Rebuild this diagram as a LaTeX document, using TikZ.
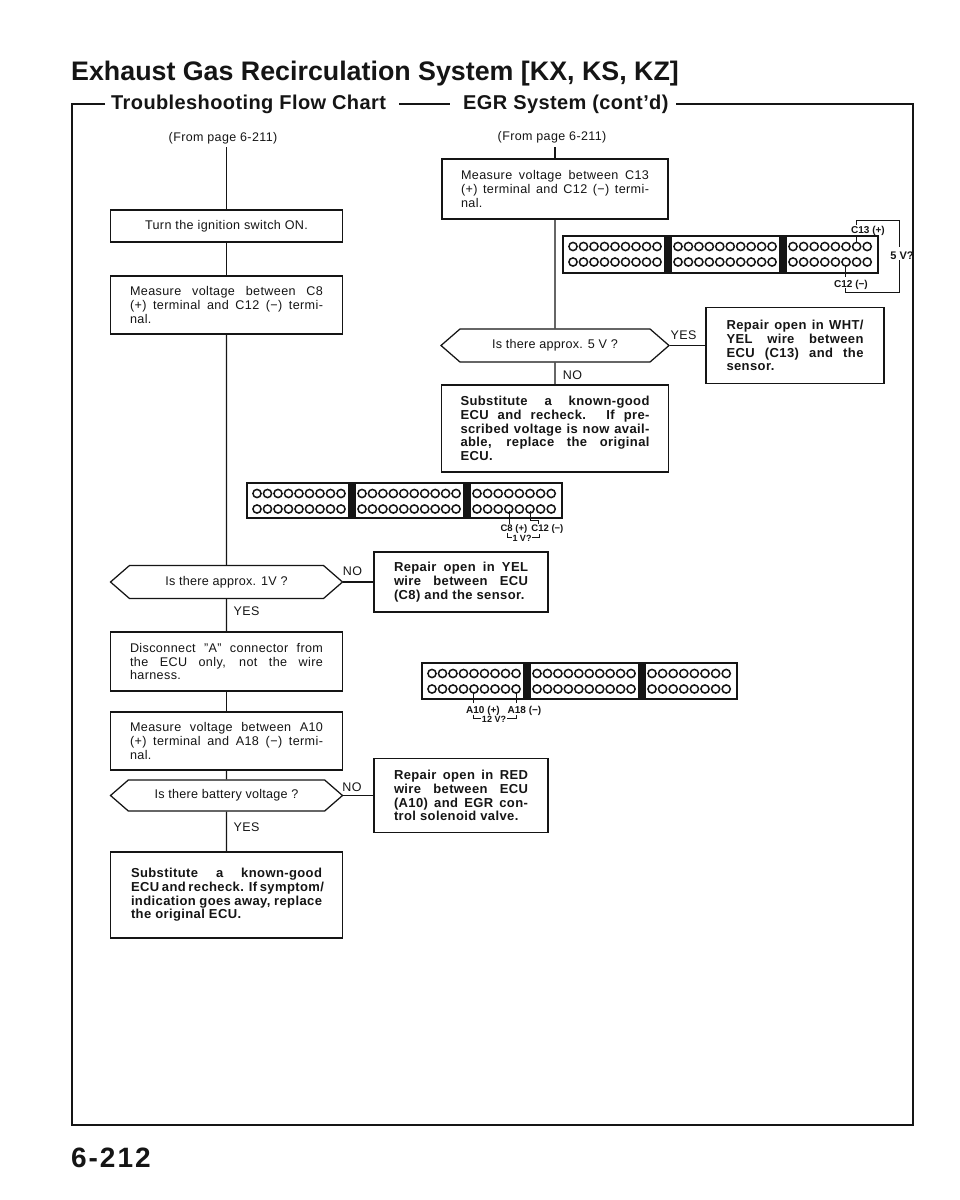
\documentclass[tikz,border=0pt]{standalone}
\usepackage{fontspec}
\setmainfont{Liberation Sans}
\usetikzlibrary{shapes.symbols}
\newcommand{\jl}[2]{\makebox[#1pt][s]{#2}}
\newcommand{\rowpins}[2]{%
  \foreach \k in {0,...,8} \draw[pin] ({#1+10+\k*10.5},#2) circle (4.1);
  \foreach \k in {0,...,9} \draw[pin] ({#1+115+\k*10.45},#2) circle (4.1);
  \foreach \k in {0,...,7} \draw[pin] ({#1+230+\k*10.6},#2) circle (4.1);}
\newcommand{\connbody}[3]{%
  \draw[line width=2pt,ink] (#1,#2) rectangle ({#1+315},{#2+#3});
  \fill[ink] ({#1+101},#2) rectangle ({#1+109},{#2+#3});
  \fill[ink] ({#1+216},#2) rectangle ({#1+224},{#2+#3});
  \rowpins{#1}{#2+10.5}
  \rowpins{#1}{#2+26}}
\definecolor{ink}{HTML}{151515}
\tikzset{
  x=1pt,y=-1pt,
  lin/.style={line width=1.15pt,draw=ink},
  pin/.style={line width=1.5pt,draw=ink},
  lead/.style={line width=1pt,draw=ink},
  bx/.style={rectangle,draw=ink,line width=1.25pt,fill=white,inner sep=0pt,align=left,
    font=\fontsize{12.6}{13.7}\selectfont\addfontfeature{LetterSpace=3},text=ink},
  bb/.style={bx,font=\fontsize{13}{13.7}\selectfont\bfseries\addfontfeature{LetterSpace=3}},
  hx/.style={signal,signal to=east and west,signal pointer angle=82,draw=ink,line width=1.25pt,
    fill=white,inner sep=0pt,minimum width=232pt,minimum height=33pt,
    font=\fontsize{12.6}{13.7}\selectfont\addfontfeature{LetterSpace=2},text=ink},
  lb/.style={inner sep=0pt,anchor=base,font=\fontsize{12.5}{14}\selectfont\addfontfeature{LetterSpace=3},text=ink},
  sm/.style={inner sep=0pt,anchor=base,font=\fontsize{10}{12}\selectfont\bfseries,text=ink},
  tn/.style={inner sep=0pt,anchor=base,font=\fontsize{9.5}{10}\selectfont\bfseries,text=ink},
}
\begin{document}
\begin{tikzpicture}
\useasboundingbox (0,0) rectangle (960,1200);
\fill[white] (0,0) rectangle (960,1200);
% header
\node[inner sep=0pt,anchor=base west,font=\fontsize{26.8}{28}\selectfont\bfseries,text=ink] (ttl) at (71,80) {Exhaust Gas Recirculation System [KX, KS, KZ]};
\node[inner sep=0pt,anchor=base west,font=\fontsize{20}{22}\selectfont\bfseries\addfontfeature{LetterSpace=2},text=ink] (st1) at (111,109) {Troubleshooting Flow Chart};
\node[inner sep=0pt,anchor=base west,font=\fontsize{20}{22}\selectfont\bfseries\addfontfeature{LetterSpace=2},text=ink] (st2) at (463,109) {EGR System (cont'd)};
\node[inner sep=0pt,anchor=base west,font=\fontsize{28}{30}\selectfont\bfseries\addfontfeature{LetterSpace=7},text=ink] (pg) at (71,1167) {6-212};
% frame
\draw[line width=1.4pt,ink] (105,104) -- (72,104) -- (72,1125) -- (913,1125) -- (913,104) -- (676,104);
\draw[line width=1.4pt,ink] (399,104) -- (450,104);
% left column
\node[lb] (f1) at (223,141) {(From page 6-211)};
\coordinate (f1s) at (226.5,147);
\node[bx,minimum width=232pt,minimum height=32pt,align=center] (b1) at (226.5,226) {Turn the ignition switch ON.};
\node[bx,minimum width=232pt,minimum height=58pt] (b2) at (226.5,305) {\jl{193}{Measure voltage between C8}\\\jl{193}{(+) terminal and C12 (−) termi-}\\nal.};
\node[hx] (h1) at (226.5,582) {Is there approx. 1V ?};
\node[bx,minimum width=232pt,minimum height=59pt] (b3) at (226.5,661.5) {\jl{193}{Disconnect ”A” connector from}\\\jl{193}{the ECU only, not the wire}\\harness.};
\node[bx,minimum width=232pt,minimum height=58pt] (b4) at (226.5,741) {\jl{193}{Measure voltage between A10}\\\jl{193}{(+) terminal and A18 (−) termi-}\\nal.};
\node[hx,minimum height=31pt] (h2) at (226.5,795.5) {Is there battery voltage ?};
\node[bb,minimum width=232pt,minimum height=86pt] (b5) at (226.5,895) {\jl{191}{Substitute a known-good}\\\jl{191}{ECU and recheck. If symptom/}\\\jl{191}{indication goes away, replace}\\the original ECU.};
\node[bb,minimum width=174pt,minimum height=60pt] (r1) at (461,582) {\jl{134}{Repair open in YEL}\\\jl{134}{wire between ECU}\\(C8) and the sensor.};
\node[bb,minimum width=174pt,minimum height=74pt] (r2) at (461,795.5) {\jl{134}{Repair open in RED}\\\jl{134}{wire between ECU}\\\jl{134}{(A10) and EGR con-}\\trol solenoid valve.};
\node[lb] (ly1) at (246.5,615) {YES};
\node[lb] (ln1) at (352.5,575) {NO};
\node[lb] (ln2) at (352,791) {NO};
\node[lb] (ly2) at (246.5,831) {YES};
\draw[lin] (f1s) -- (b1.north);
\draw[lin] (b1) -- (b2);
\draw[lin] (b2) -- (h1);
\draw[lin] (h1) -- (b3);
\draw[lin] (b3) -- (b4);
\draw[lin] (b4) -- (h2);
\draw[lin] (h2) -- (b5);
\draw[lin] (h1.east) -- (r1.west);
\draw[lin] (h2.east) -- (r2.west);
% right column
\node[lb] (f2) at (552,140) {(From page 6-211)};
\coordinate (f2s) at (555,147);
\node[bx,minimum width=226pt,minimum height=60pt] (c1) at (555,189) {\jl{188}{Measure voltage between C13}\\\jl{188}{(+) terminal and C12 (−) termi-}\\nal.};
\node[hx,minimum width=228pt] (h3) at (555,345.5) {Is there approx. 5 V ?};
\node[bb,minimum width=227pt,minimum height=87pt] (c2) at (555,428.5) {\jl{189}{Substitute a known-good}\\\jl{189}{ECU and recheck. If pre-}\\\jl{189}{scribed voltage is now avail-}\\\jl{189}{able, replace the original}\\ECU.};
\node[bb,minimum width=178pt,minimum height=76pt] (w1) at (795,345.5) {\jl{137}{Repair open in WHT/}\\\jl{137}{YEL wire between}\\\jl{137}{ECU (C13) and the}\\sensor.};
\node[lb] (ly3) at (683.5,339) {YES};
\node[lb] (ln3) at (572.5,379) {NO};
\draw[lin] (f2s) -- (c1.north);
\draw[lin] (c1) -- (h3);
\draw[lin] (h3) -- (c2);
\draw[lin] (h3.east) -- (w1.west);
% connector C13/C12
\connbody{563}{236}{37}
\draw[lead] (856.6,243) -- (856.6,236);
\draw[lead] (845.9,266) -- (845.9,277);
\node[sm] (c13) at (868,233) {C13 (+)};
\node[sm] (c12) at (851,287) {C12 (−)};
\node[sm,font=\fontsize{11}{12}\selectfont\bfseries] (v5) at (902,259) {5 V?};
\draw[lead] (856.6,225) -- (856.6,220) -- (899,220) -- (899,247);
\draw[lead] (899,260) -- (899,292) -- (845.9,292) -- (845.9,288);
% connector C8/C12
\connbody{247}{483}{35}
\draw[lead] (509,511) -- (509,524);
\draw[lead] (530,511) -- (530,520) -- (538,520) -- (538,524);
\node[tn] (c8) at (532,531.5) {C8 (+) \,C12 (−)};
\node[tn,font=\fontsize{9}{10}\selectfont\bfseries] (v1) at (522,541) {1 V?};
\draw[lead] (507,533) -- (507,537) -- (512,537);
\draw[lead] (532,537) -- (539,537) -- (539,534);
% connector A10/A18
\connbody{422}{663}{36}
\draw[lead] (473.5,692) -- (473.5,703);
\draw[lead] (516,692) -- (516,703);
\node[sm] (a10) at (483,713) {A10 (+)};
\node[sm] (a18) at (524.5,713) {A18 (−)};
\node[tn,font=\fontsize{9}{10}\selectfont\bfseries] (v12) at (494,722) {12 V?};
\draw[lead] (473.5,714.5) -- (473.5,718) -- (481,718);
\draw[lead] (507,718) -- (516,718) -- (516,714.5);
\end{tikzpicture}
\end{document}
